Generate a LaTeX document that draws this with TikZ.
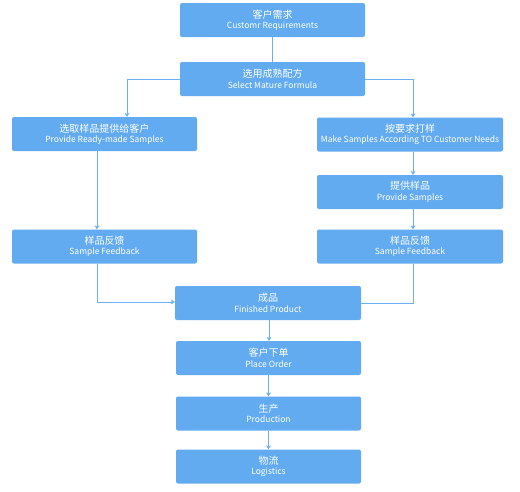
\documentclass[tikz,border=0pt]{standalone}
\usepackage{fontspec}
\setmainfont{Noto Sans CJK SC}
\usetikzlibrary{arrows.meta}
\definecolor{boxblue}{RGB}{99,171,241}
\definecolor{lineblue}{RGB}{106,176,243}
\tikzset{
  stepbox/.style={draw=none, fill=boxblue, rounded corners=2pt, minimum width=185pt,
    minimum height=34pt, text=white, align=center, inner sep=0pt},
  link/.style={draw=lineblue, line width=1pt},
  arrowlink/.style={link, -{Stealth[length=4pt,width=5pt]}},
}
\newcommand{\boxtext}[2]{{\fontsize{10}{11}\selectfont #1}\\[-1.5pt]{\fontsize{8.5}{9}\selectfont #2}}
\begin{document}
\begin{tikzpicture}[x=1pt, y=-1pt]
      \useasboundingbox[fill=white] (0,0) rectangle (520,491);

      % Boxes
      \node[stepbox] (req) at (272.5,20) {\boxtext{客户需求}{Customr Requirements}};
      \node[stepbox] (formula) at (272.5,79) {\boxtext{选用成熟配方}{Select Mature Formula}};
      \node[stepbox] (ready) at (104.5,134) {\boxtext{选取样品提供给客户}{Provide Ready-made Samples}};
      \node[stepbox, minimum width=186pt] (make) at (410,134.5) {\boxtext{按要求打样}{Make Samples According TO Customer Needs}};
      \node[stepbox, minimum width=186pt] (provide) at (410,192) {\boxtext{提供样品}{Provide Samples}};
      \node[stepbox] (fbleft) at (104.5,246.5) {\boxtext{样品反馈}{Sample Feedback}};
      \node[stepbox, minimum width=186pt] (fbright) at (410,246.5) {\boxtext{样品反馈}{Sample Feedback}};
      \node[stepbox, minimum width=186pt] (product) at (268,303) {\boxtext{成品}{Finished Product}};
      \node[stepbox] (order) at (268.5,358) {\boxtext{客户下单}{Place Order}};
      \node[stepbox] (production) at (268.5,413.5) {\boxtext{生产}{Production}};
      \node[stepbox] (logistics) at (268.5,466.5) {\boxtext{物流}{Logistics}};

      % Connectors
      \draw[link] (req) -- (formula);
      \draw[arrowlink] (formula.west) -| ([xshift=22.5pt]ready.north);
      \draw[arrowlink] (formula.east) -| ([xshift=3pt]make.north);
      \draw[arrowlink] ([xshift=-7.5pt]ready.south) -- ([xshift=-7.5pt]fbleft.north);
      \draw[arrowlink] ([xshift=3pt]make.south) -- ([xshift=3pt]provide.north);
      \draw[arrowlink] ([xshift=3pt]provide.south) -- ([xshift=3pt]fbright.north);
      \draw[arrowlink] ([xshift=-7.5pt]fbleft.south) |- ([yshift=1pt]product.west);
      \draw[link] ([xshift=3pt]fbright.south) |- (product.east);
      \draw[arrowlink] ([xshift=1pt]product.south) -- ([xshift=0.5pt]order.north);
      \draw[arrowlink] (order) -- (production);
      \draw[arrowlink] (production) -- (logistics);
\end{tikzpicture}
\end{document}
